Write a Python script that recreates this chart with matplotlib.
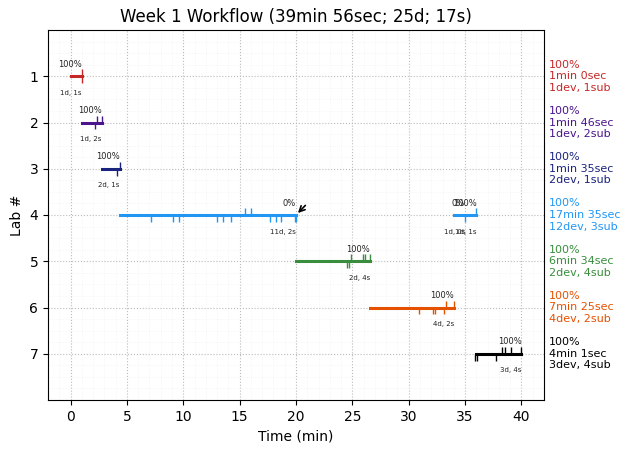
import matplotlib
matplotlib.use("Agg")
import matplotlib.pyplot as plt
from matplotlib.ticker import MultipleLocator

labs = [1, 2, 3, 4, 4, 5, 6, 7]
colors = ["#c62828", "#4a148c", "#1a237e", "#2196f3", "#2196f3", "#388e3c", "#e65100", "#000000"]
starts = [0.0, 1.0, 2.77, 4.35, 34.0, 20.0, 26.57, 36.0]
ends = [1.0, 2.77, 4.35, 20.0, 36.0, 26.57, 34.0, 40.0]

# commits go above the line, submissions below
ups = [
    [1.05],
    [2.38, 2.82],
    [4.41],
    [15.5, 16.0],
    [35.95],
    [24.87, 25.95, 26.15, 26.56],
    [33.3, 34.0],
    [38.25, 38.5, 39.05, 40.0],
]
downs = [
    [1.05],
    [2.2],
    [4.09],
    [7.16, 9.1, 9.64, 12.95, 13.5, 14.25, 17.7, 18.2, 18.7, 19.95, 20.0],
    [34.97],
    [24.5, 24.7],
    [30.9, 32.15, 32.35, 33.1],
    [35.85, 36.05, 37.7],
]
percents = ["100%", "100%", "100%", "0%", "100%", "100%", "100%", "100%"]
counts = ["1d, 1s", "1d, 2s", "2d, 1s", "11d, 2s", "1d, 1s", "2d, 4s", "4d, 2s", "3d, 4s"]

# lab 4 has one more label pair that lands on top of the second segment
extra_lab = 4
extra_time = 35.0
extra_percent = "0%"
extra_count = "1d, 0s"

side_labels = [
    "100%\n1min 0sec\n1dev, 1sub",
    "100%\n1min 46sec\n1dev, 2sub",
    "100%\n1min 35sec\n2dev, 1sub",
    "100%\n17min 35sec\n12dev, 3sub",
    "100%\n6min 34sec\n2dev, 4sub",
    "100%\n7min 25sec\n4dev, 2sub",
    "100%\n4min 1sec\n3dev, 4sub",
]
side_colors = ["#c62828", "#4a148c", "#1a237e", "#2196f3", "#388e3c", "#e65100", "#000000"]

fig = plt.figure(figsize=(6.3, 4.53), dpi=100)
ax = fig.add_axes([48 / 630, 1 - 400 / 453, 496 / 630, 370 / 453])


def add_labels(x, y, percent, count):
    ax.text(x, y - 0.16, percent, fontsize=6, ha="right", va="bottom", color="#222222")
    ax.text(x, y + 0.36, count, fontsize=5, ha="right", va="center", color="#222222")


for i in range(len(labs)):
    y = labs[i]
    c = colors[i]
    ax.plot([starts[i], ends[i]], [y, y], color=c, lw=2.2, zorder=3)
    ax.vlines(ups[i], y - 0.15, y, color=c, lw=1, zorder=3)
    ax.vlines(downs[i], y, y + 0.15, color=c, lw=1, zorder=3)
    add_labels(ends[i], y, percents[i], counts[i])

add_labels(extra_time, extra_lab, extra_percent, extra_count)

ax.annotate("", xy=(20.0, 4.0), xytext=(21.0, 3.75), arrowprops=dict(arrowstyle="->", color="black", lw=1.2))

for i in range(7):
    ax.text(1.01, i + 1, side_labels[i], transform=ax.get_yaxis_transform(), color=side_colors[i],
            fontsize=8, va="center", ha="left")

ax.set_xlim(-2, 42)
ax.set_ylim(8, 0)
ax.set_xticks(range(0, 41, 5))
ax.set_yticks(range(1, 8))
ax.xaxis.set_minor_locator(MultipleLocator(1))
ax.yaxis.set_minor_locator(MultipleLocator(0.25))
ax.tick_params(which="minor", length=0)
ax.grid(which="major", color="#bbbbbb", linestyle=":", lw=0.8)
ax.grid(which="minor", color="#f0f0f0", linestyle=":", lw=0.5)
ax.set_axisbelow(True)
ax.set_xlabel("Time (min)")
ax.set_ylabel("Lab #")
ax.set_title("Week 1 Workflow (39min 56sec; 25d; 17s)")

fig.savefig("out.png", dpi=100)
